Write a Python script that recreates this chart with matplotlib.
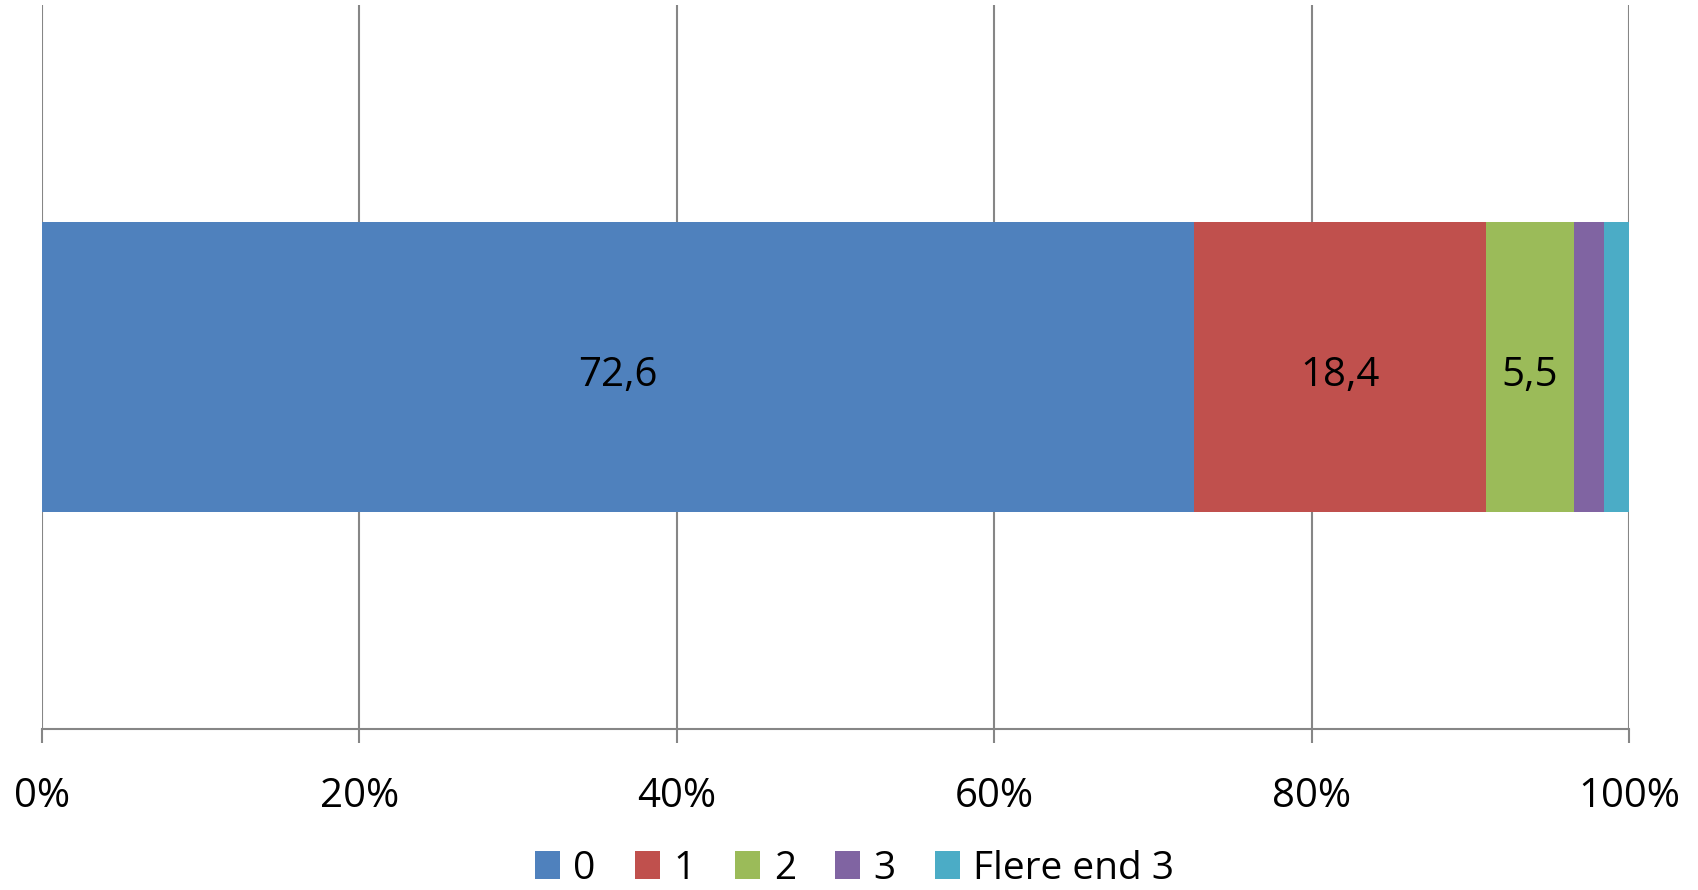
import matplotlib
matplotlib.use('Agg')
import numpy as np
import matplotlib.pyplot as plt

# data
categories = ['0', '1', '2', '3', 'Flere end 3']
values = [72.6, 18.4, 5.5, 1.9, 1.6]
labels = ['72,6', '18,4', '5,5', '', '']
colors = ['#4F81BD', '#C0504D', '#9BBB59', '#8064A2', '#4BACC6']
xticks = [0, 20, 40, 60, 80, 100]
xticklabels = ['0%', '20%', '40%', '60%', '80%', '100%']

plt.rcParams['font.family'] = ['Open Sans', 'DejaVu Sans']

fig = plt.figure(figsize=(16.98, 8.90), dpi=100)
ax = fig.add_axes([0.0247, 0.181, 0.9347, 0.813])

left = 0
for cat, val, lab, col in zip(categories, values, labels, colors):
    ax.barh(0, val, left=left, height=0.4, color=col, label=cat, zorder=3)
    if lab:
        ax.text(left + val / 2, -0.012, lab, ha='center', va='center', fontsize=29, color='black', zorder=4)
    left += val

ax.set_xlim(0, 100)
ax.set_ylim(-0.5, 0.5)
ax.set_yticks([])
ax.set_xticks(xticks)
ax.set_xticklabels(xticklabels, fontsize=29)
ax.tick_params(axis='x', length=10, width=1.5, color='#868686', pad=24)
ax.grid(axis='x', color='#868686', linewidth=1.5, zorder=0)
for side in ['top', 'right', 'left']:
    ax.spines[side].set_visible(False)
ax.spines['bottom'].set_color('#868686')
ax.spines['bottom'].set_linewidth(1.5)

ax.legend(loc='center', bbox_to_anchor=(0.512, -0.193), ncol=5, frameon=False, fontsize=28,
          handlelength=0.65, handleheight=0.7, handletextpad=0.35, columnspacing=1.0,
          borderpad=0.1)

fig.savefig('out.png', dpi=100)
